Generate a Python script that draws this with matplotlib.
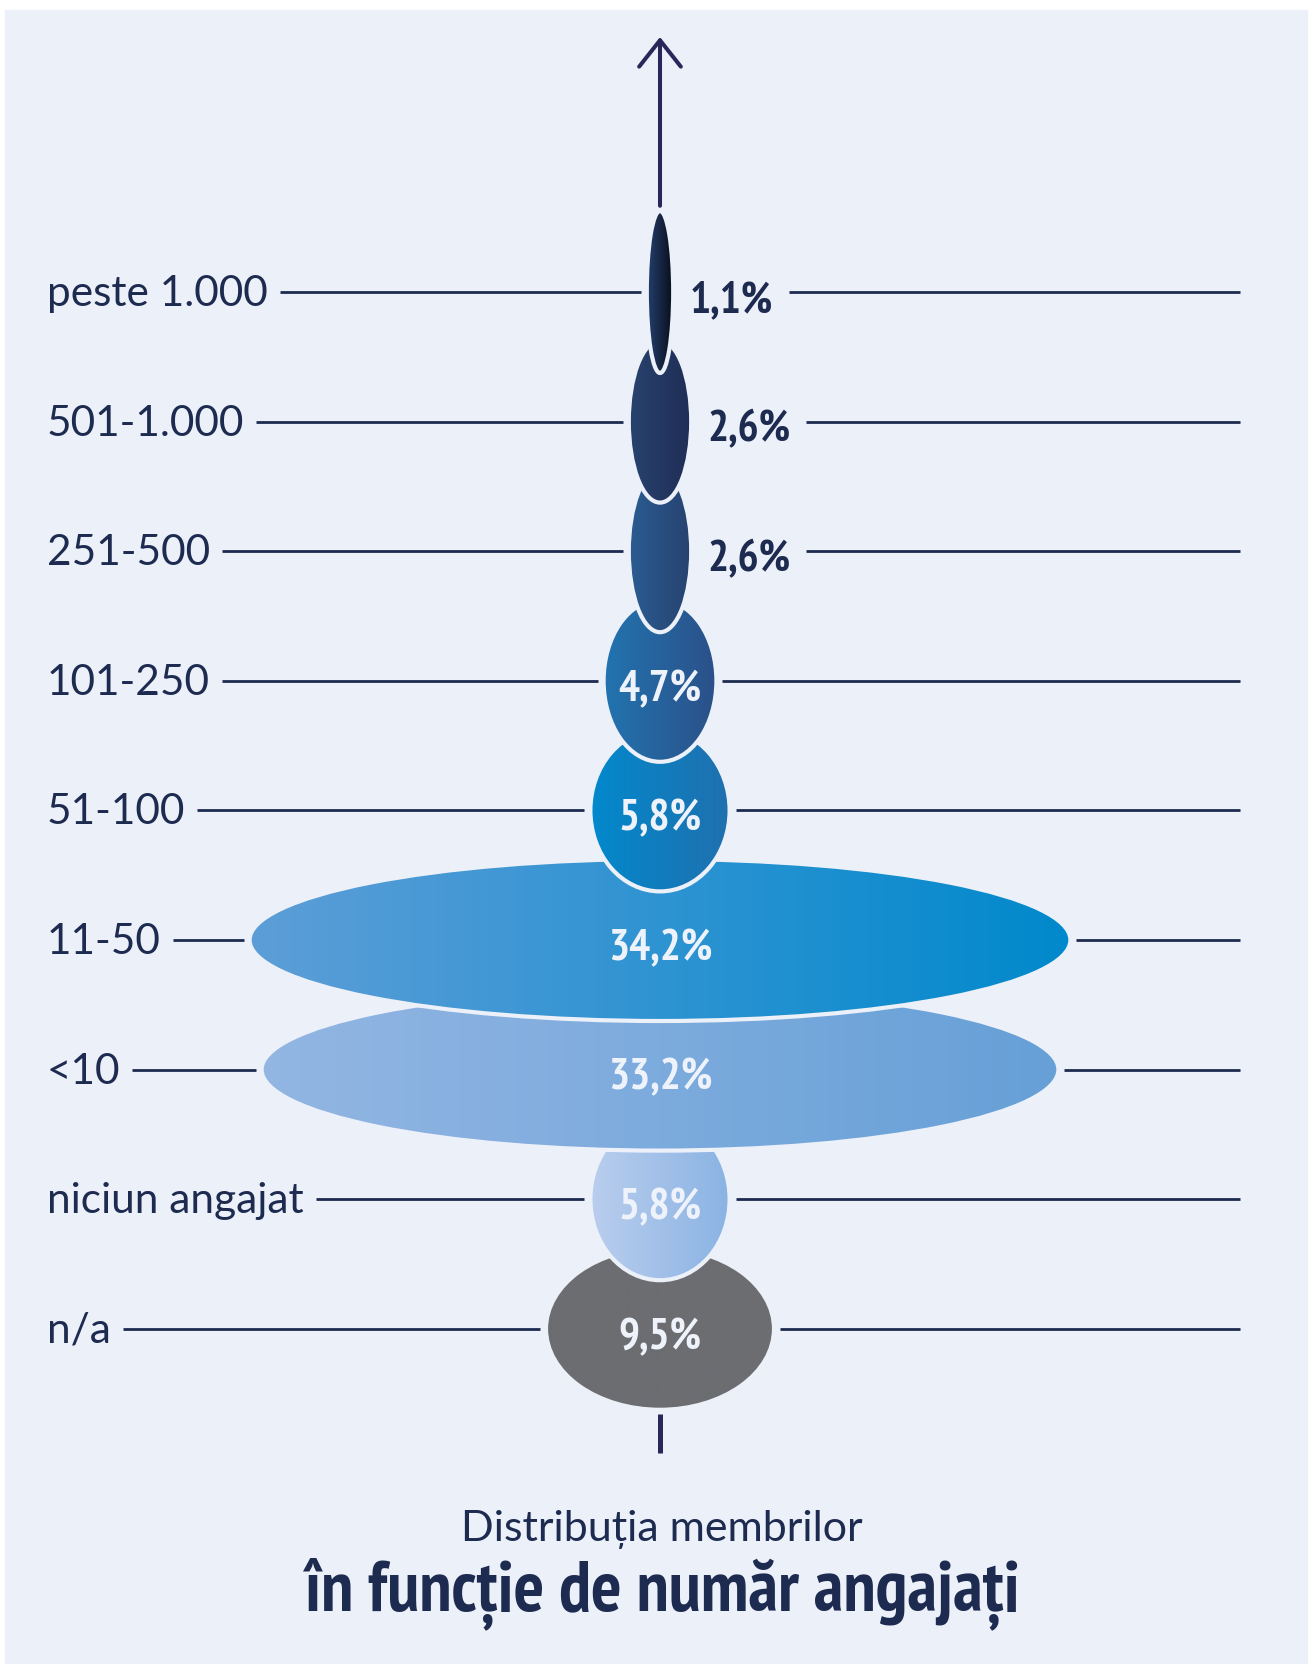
import numpy as np
import matplotlib
matplotlib.use('Agg')
import matplotlib.pyplot as plt
from matplotlib import font_manager as fm
from matplotlib.patches import Ellipse, Rectangle

# date
categories = ['peste 1.000', '501-1.000', '251-500', '101-250', '51-100',
              '11-50', '<10', 'niciun angajat', 'n/a']
values = [1.1, 2.6, 2.6, 4.7, 5.8, 34.2, 33.2, 5.8, 9.5]
left_cols = ['#24406E', '#28436F', '#2B5C92', '#2274B0', '#0289CD',
             '#5D9ED8', '#93B6E3', '#BACEEE', '#6C6D71']
right_cols = ['#080C18', '#1F2D55', '#26426F', '#2B5088', '#2070AE',
              '#0089CC', '#66A0D7', '#8AB3E3', '#6C6D71']
title_1 = 'Distribuția membrilor'
title_2 = 'în funcție de număr angajați'

bg = '#ECF0F9'
navy = '#1E2B50'
light = '#EEF2FA'
arrow_col = '#2B2659'

W, H = 1316, 1664
px = 24.0        # pixeli per procent
row_px = 129.6   # distanta dintre randuri
x0_px, y0_px = 660, 292
ell_h = 1.25     # inaltimea elipsei, in randuri


# cauta un font ingust, bold (nu avem Bebas / Oswald)
def find_narrow():
    best = None
    for f in fm.fontManager.ttflist:
        w = f.weight if isinstance(f.weight, int) else (700 if 'bold' in str(f.weight).lower() else 400)
        if w < 600 or 'Italic' in f.fname or 'Oblique' in f.fname:
            continue
        name = f.name + ' ' + f.fname
        if 'Narrow' in name:
            score = 3
        elif 'Condensed' in name and 'Semi' not in name:
            score = 2
        elif 'ondensed' in str(f.stretch) or 'Condensed' in name:
            score = 1
        else:
            continue
        if best is None or score > best[0]:
            best = (score, f.fname)
    if best:
        return fm.FontProperties(fname=best[1])
    return fm.FontProperties(family='DejaVu Sans', weight='bold')


narrow = find_narrow()

fig = plt.figure(figsize=(W / 100, H / 100), dpi=100)
fig.patch.set_facecolor('white')
fig.add_artist(Rectangle((5 / W, 0), 1302 / W, 1654 / H, transform=fig.transFigure,
                         color=bg, zorder=-1))
ax = fig.add_axes([0, 0, 1, 1])
ax.set_facecolor('none')
ax.axis('off')

xlim = (-x0_px / px, (W - x0_px) / px)
ylim = ((H - y0_px) / row_px, -y0_px / row_px)


def to_rgb(h):
    return np.array(matplotlib.colors.to_rgb(h))


n = len(values)
t = np.linspace(0, 1, 256)[:, None]
for i, (v, c0, c1) in enumerate(zip(values, left_cols, right_cols)):
    z = 10 + (n - i) * 2
    img = (1 - t) * to_rgb(c0) + t * to_rgb(c1)
    im = ax.imshow(img[None, :, :], extent=[-v / 2, v / 2, i + ell_h / 2, i - ell_h / 2],
                   aspect='auto', interpolation='bilinear', zorder=z)
    e = Ellipse((0, i), v, ell_h, facecolor='none', edgecolor=bg, lw=3, zorder=z + 0.5)
    ax.add_patch(e)
    im.set_clip_path(e)

ax.set_xlim(*xlim)
ax.set_ylim(*ylim)

fig.canvas.draw()
r = fig.canvas.get_renderer()

# marimea fontului ingust, potrivita dupa latimea din original
probe = fig.text(0, 0, '34,2%', fontproperties=narrow, size=31)
val_size = 1.06 * 31 * 98 / probe.get_window_extent(r).width
probe.set_text(title_2)
probe.set_size(46)
title_size = 1.02 * 46 * 702 / probe.get_window_extent(r).width
probe.remove()

lab_font = dict(family=['Lato', 'DejaVu Sans'], size=30.5)

label_x = (47 - x0_px) / px
line_end = (1240 - x0_px) / px
cat_texts, val_texts = [], []
for i, (cat, v) in enumerate(zip(categories, values)):
    cat_texts.append(ax.text(label_x, i + 14 / row_px, cat, ha='left', va='baseline',
                             color=navy, zorder=60, **lab_font))
    s = f'{v:.1f}%'.replace('.', ',')
    if v < 3:
        val_texts.append(ax.text(v / 2 + 16 / px, i + 20 / row_px, s, ha='left',
                                 va='baseline', color=navy, zorder=60,
                                 fontproperties=narrow, size=val_size))
    else:
        val_texts.append(ax.text(0, i + 20 / row_px, s, ha='center', va='baseline',
                                 color=light, zorder=60,
                                 fontproperties=narrow, size=val_size))

fig.canvas.draw()
inv = ax.transData.inverted()
for i, v in enumerate(values):
    bb = cat_texts[i].get_window_extent(r)
    xs = inv.transform((bb.x1 + 12, 0))[0]
    ax.plot([xs, -v / 2 - 6 / px], [i, i], color=navy, lw=2, zorder=1,
            solid_capstyle='butt')
    if v < 3:
        bb = val_texts[i].get_window_extent(r)
        xr = inv.transform((bb.x1 + 16, 0))[0]
    else:
        xr = v / 2 + 6 / px
    ax.plot([xr, line_end], [i, i], color=navy, lw=2, zorder=1, solid_capstyle='butt')

# sageata de sus si capatul de jos
top = -ell_h / 2 - 0.04
ax.annotate('', xy=(0, (37 - y0_px) / row_px), xytext=(0, top),
            arrowprops=dict(arrowstyle='->,head_length=0.95,head_width=0.75',
                            mutation_scale=20, lw=2.9, color=arrow_col,
                            shrinkA=0, shrinkB=0), zorder=5)
bot = n - 1 + ell_h / 2 + 0.03
ax.plot([0, 0], [bot, bot + 0.3], color=arrow_col, lw=3.6, solid_capstyle='butt', zorder=5)

fig.text(0.503, 1 - 1541 / H, title_1, ha='center', va='baseline', color=navy,
         family=['Lato', 'DejaVu Sans'], size=31)
fig.text(0.503, 1 - 1610 / H, title_2, ha='center', va='baseline', color=navy,
         fontproperties=narrow, size=title_size)

fig.savefig('out.png', dpi=100, facecolor=fig.get_facecolor())
